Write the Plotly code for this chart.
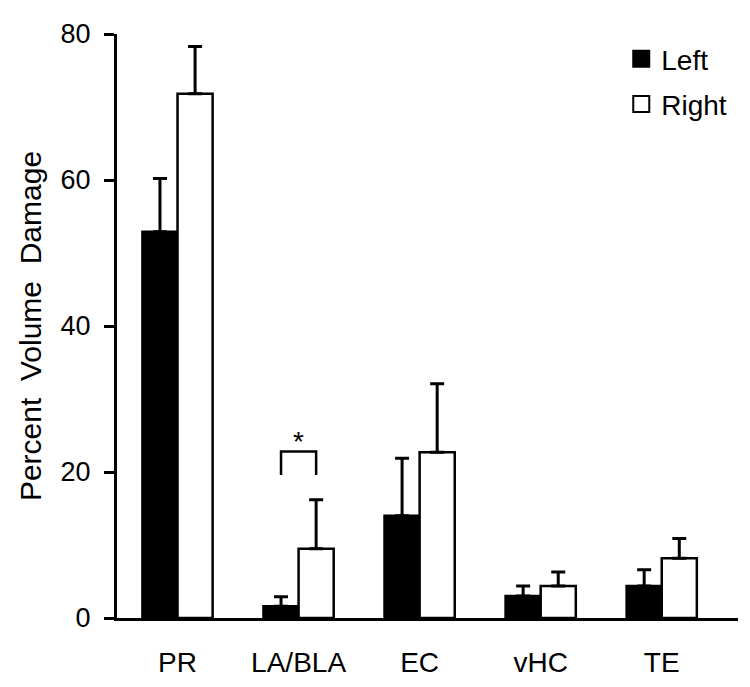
import plotly.graph_objects as go

categories = ["PR", "LA/BLA", "EC", "vHC", "TE"]
left_vals = [52.9, 1.6, 14.0, 3.0, 4.4]
left_err = [7.3, 1.3, 7.9, 1.4, 2.2]
right_vals = [71.8, 9.5, 22.7, 4.4, 8.2]
right_err = [6.5, 6.7, 9.4, 1.9, 2.7]
y_ticks = [0, 20, 40, 60, 80]

# significance bracket over LA/BLA (category index 1)
sig_index = 1
sig_leg_low = 19.6
sig_top = 22.8

BARGAP = 0.42
FONT = "Liberation Sans, Arial, sans-serif"
xpos = list(range(len(categories)))

fig = go.Figure()
fig.add_trace(go.Bar(
    x=xpos, y=left_vals, name="Left", showlegend=False,
    marker=dict(color="black", line=dict(color="black", width=2.5)),
    error_y=dict(type="data", symmetric=False, array=left_err,
                 arrayminus=[0] * len(left_err), color="black",
                 thickness=3, width=7),
))
fig.add_trace(go.Bar(
    x=xpos, y=right_vals, name="Right", showlegend=False,
    marker=dict(color="white", line=dict(color="black", width=2.5)),
    error_y=dict(type="data", symmetric=False, array=right_err,
                 arrayminus=[0] * len(right_err), color="black",
                 thickness=3, width=7),
))

# legend entries
fig.add_trace(go.Scatter(
    x=[None], y=[None], mode="markers", name="Left", legendgroup="L",
    marker=dict(symbol="square", size=16, color="black",
                line=dict(color="black", width=2)),
))
fig.add_trace(go.Scatter(
    x=[None], y=[None], mode="markers", name="Right", legendgroup="R",
    marker=dict(symbol="square", size=16, color="white",
                line=dict(color="black", width=2)),
))

# bracket
off = (1 - BARGAP) / 4
bx = [sig_index - off, sig_index - off, sig_index + off, sig_index + off]
by = [sig_leg_low, sig_top, sig_top, sig_leg_low]
fig.add_trace(go.Scatter(
    x=bx, y=by, mode="lines", showlegend=False, hoverinfo="skip",
    line=dict(color="black", width=2.5),
))
fig.add_annotation(
    x=sig_index, y=sig_top, text="*", showarrow=False,
    yanchor="bottom", xanchor="center", yshift=-7,
    font=dict(family=FONT, size=28, color="black"),
)

fig.update_layout(
    width=750, height=687,
    margin=dict(l=109, r=20, t=26, b=77, autoexpand=False),
    paper_bgcolor="white", plot_bgcolor="white",
    barmode="group", bargap=BARGAP, bargroupgap=0,
    font=dict(family=FONT, size=28, color="black"),
    legend=dict(x=0.812, y=1.0, xanchor="left", yanchor="top",
                traceorder="grouped", tracegroupgap=6,
                font=dict(family=FONT, size=28, color="black"),
                bgcolor="rgba(0,0,0,0)"),
    showlegend=True,
)
fig.update_xaxes(
    type="linear", range=[-0.5, 4.63],
    tickmode="array", tickvals=xpos, ticktext=categories,
    showline=True, linecolor="black", linewidth=3,
    ticks="", showgrid=False, zeroline=False,
    ticklabelstandoff=17,
    tickfont=dict(family=FONT, size=28, color="black"),
)
fig.update_yaxes(
    range=[0, 80], tickmode="array", tickvals=y_ticks,
    showline=True, linecolor="black", linewidth=3,
    ticks="outside", ticklen=10, tickwidth=3, tickcolor="black",
    showgrid=False, zeroline=False, ticklabelstandoff=8,
    tickfont=dict(family=FONT, size=27, color="black"),
    title=dict(text="Percent \u00a0Volume \u00a0Damage",
               standoff=11,
               font=dict(family=FONT, size=30, color="black")),
)

fig.write_html("out.html")
